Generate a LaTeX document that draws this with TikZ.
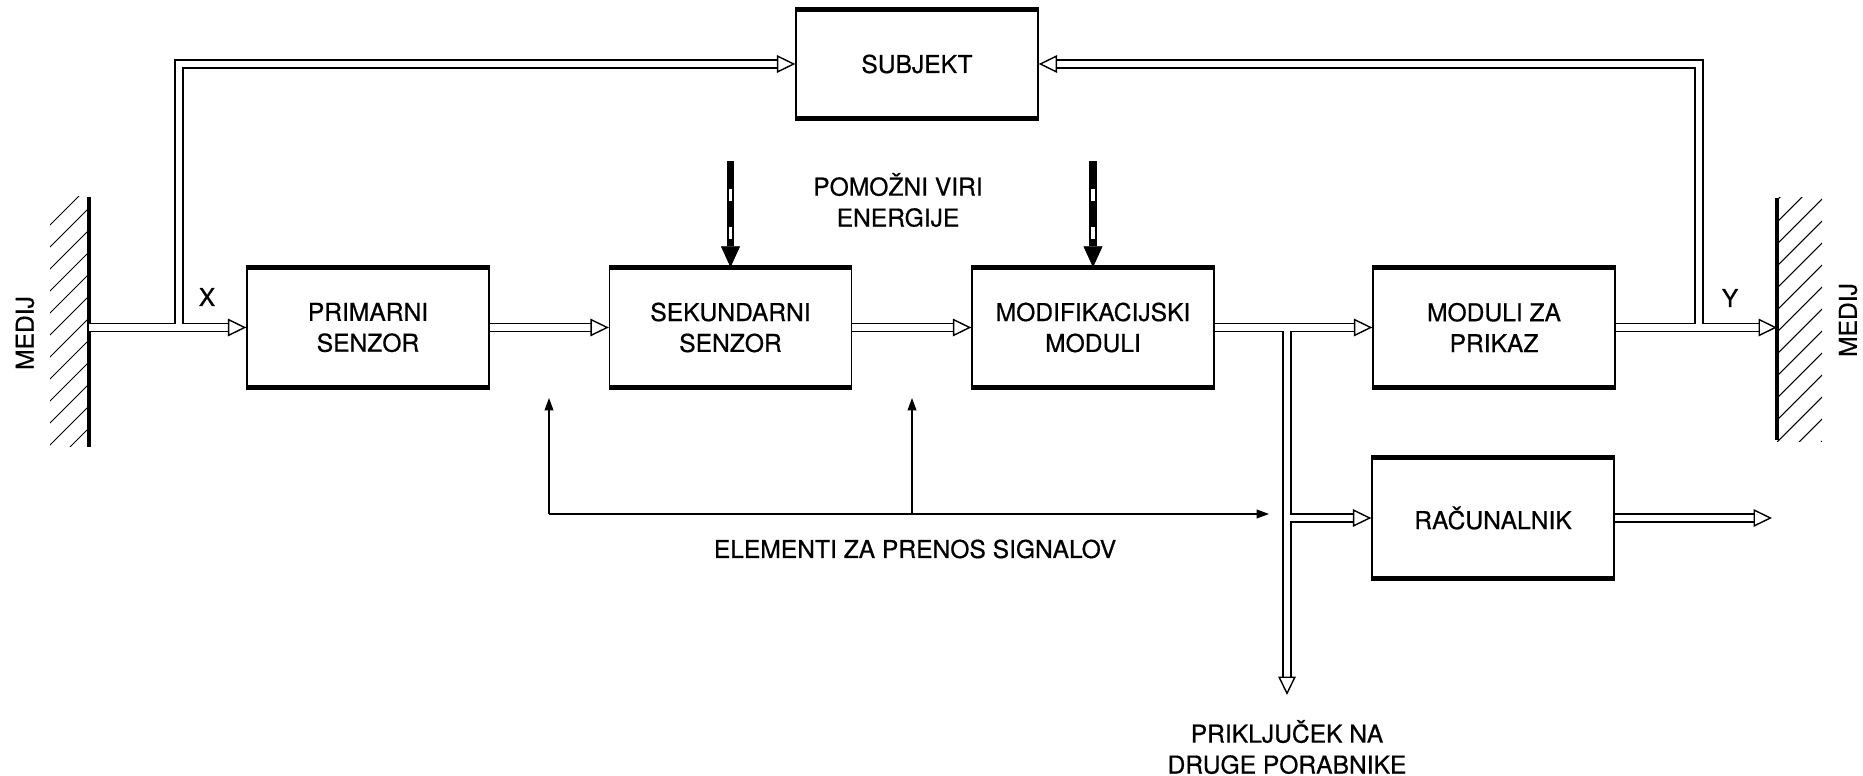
\documentclass[tikz,border=0pt]{standalone}
\usepackage{fontspec}
\setmainfont{TeX Gyre Heros}[FakeBold=0.6]
\usetikzlibrary{arrows.meta}
\tikzset{
  blok/.style={draw,line width=0.8pt,minimum width=4.84cm,minimum height=2.38cm,inner sep=0pt,align=center,font=\fontsize{14}{17.6}\selectfont},
  napis/.style={align=center,font=\fontsize{14}{17.6}\selectfont},
  dvojna/.style={draw,double,line width=0.9pt,double distance=3.5pt},
  konica/.style={line width=0.8pt,-{Triangle[fill=white,length=10.5pt,width=10pt,line width=0.8pt]}},
  tanka/.style={line width=0.6pt,-{Triangle[length=7pt,width=5pt]}},
  energija/.style={line width=4pt,-{Triangle[length=0.42cm,width=0.38cm,line width=0.4pt]}},
  okno/.style={white,line width=1.8pt},
  stena/.style={line width=1.8pt},
  srafura/.style={line width=0.6pt},
}
\begin{document}
\begin{tikzpicture}[x=0.02cm,y=-0.02cm]
  \useasboundingbox (0,0) rectangle (1863,776);
  % bloki
  \node[blok,minimum height=2.16cm] (SUBJ) at (917,64) {SUBJEKT};
  \node[blok] (PRI) at (368,327.5) {PRIMARNI\\SENZOR};
  \node[blok] (SEK) at (730.5,327.5) {SEKUNDARNI\\SENZOR};
  \node[blok] (MOD) at (1093,327.5) {MODIFIKACIJSKI\\MODULI};
  \node[blok] (PRK) at (1494,327.5) {MODULI ZA\\PRIKAZ};
  \node[blok] (RAC) at (1493,518) {RAČUNALNIK};
  \foreach \n in {SUBJ,PRI,SEK,MOD,PRK,RAC} {
    \draw[line width=2.8pt] (\n.north west) -- (\n.north east);
    \draw[line width=2.8pt] (\n.south west) -- (\n.south east);
  }
  % stene
  \coordinate (wl) at (89,327.5);
  \coordinate (wr) at (1777,327.5);
  \draw[stena] (89,197) -- (89,447);
  \draw[stena] (1777,198) -- (1777,440);
  \begin{scope}
    \clip (50,197) rectangle (89,447);
    \foreach \y in {186,208,...,470} \draw[srafura] (89,\y) -- ++(-40,40);
  \end{scope}
  \begin{scope}
    \clip (1777,198) rectangle (1822,442);
    \foreach \y in {200,222,...,490} \draw[srafura] (1777,\y) -- ++(45,-45);
  \end{scope}
  \node[napis,rotate=90] (medl) at (25,333) {MEDIJ};
  \node[napis,rotate=90] (medr) at (1848,320) {MEDIJ};
  % signalne poti
  \coordinate (j1) at (179,327.5);
  \coordinate (j2) at (1699,327.5);
  \coordinate (j3) at (1287,327.5);
  \coordinate (j4) at (1287,518);
  \coordinate (dol) at (1287,695);
  \coordinate (desno) at (1772,518);
  \path[dvojna] (wl) -- ([xshift=-7pt]PRI.west) (PRI.east) -- ([xshift=-7pt]SEK.west)
    (SEK.east) -- ([xshift=-7pt]MOD.west) (MOD.east) -- ([xshift=-7pt]PRK.west)
    (PRK.east) -- ([xshift=-7pt]wr) (j1) |- ([xshift=-7pt]SUBJ.west)
    (j2) |- ([xshift=7pt]SUBJ.east) (j3) -- ([yshift=7pt]dol)
    (j4) -- ([xshift=-7pt]RAC.west) (RAC.east) -- ([xshift=-7pt]desno);
  \foreach \t in {PRI.west,SEK.west,MOD.west,PRK.west,wr,SUBJ.west,RAC.west,desno}
    \draw[konica] ([xshift=-2pt]\t) -- (\t);
  \draw[konica] ([xshift=2pt]SUBJ.east) -- (SUBJ.east);
  \draw[konica] ([yshift=2pt]dol) -- (dol);
  \node[napis] (X) at (207,297) {X};
  \node[napis] (Y) at (1730,298) {Y};
  % pomozni viri energije
  \foreach \n in {SEK,MOD} {
    \draw[energija] ([yshift=2.12cm]\n.north) -- (\n.north);
    \draw[okno] ([yshift=1.32cm]\n.north) -- ([yshift=1.56cm]\n.north);
    \draw[okno] ([yshift=0.56cm]\n.north) -- ([yshift=0.80cm]\n.north);
  }
  \node[napis] (energ) at (898,200) {POMOŽNI VIRI\\ENERGIJE};
  % elementi za prenos
  \coordinate (t1) at (549,514);
  \coordinate (t2) at (912,514);
  \coordinate (t3) at (1269,514);
  \coordinate (g1) at (549,398);
  \coordinate (g2) at (912,398);
  \draw[tanka] (t1) -- (g1);
  \draw[tanka] (t2) -- (g2);
  \draw[tanka] (t1) -- (t3);
  \node[napis] (prenos) at (915,549) {ELEMENTI ZA PRENOS SIGNALOV};
  \node[napis] (prikl) at (1287,747) {PRIKLJUČEK NA\\DRUGE PORABNIKE};
\end{tikzpicture}
\end{document}
